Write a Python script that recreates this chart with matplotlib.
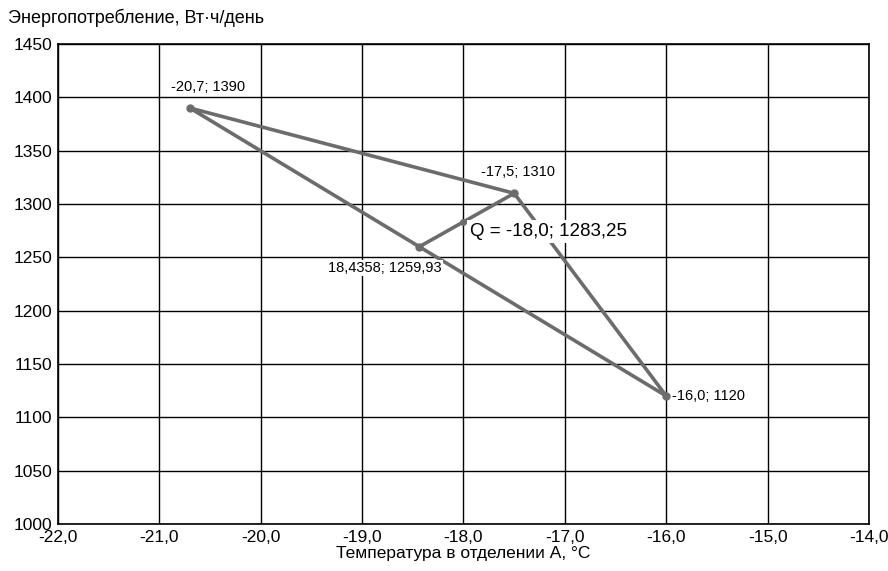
import matplotlib
matplotlib.use("Agg")
import matplotlib.pyplot as plt
from matplotlib.ticker import FuncFormatter

plt.rcParams["font.family"] = ["Liberation Sans", "DejaVu Sans"]

# вершины треугольника (температура, энергопотребление)
tri_t = [-20.7, -17.5, -16.0, -20.7]
tri_e = [1390, 1310, 1120, 1390]

# отрезок через точку Q
seg_t = [-18.4358, -17.5]
seg_e = [1259.93, 1310]

q_t, q_e = -18.0, 1283.25

labels = ["-20,7; 1390", "-17,5; 1310", "18,4358; 1259,93", "-16,0; 1120"]
label_pos = [(-20.52, 1410), (-17.46, 1330), (-18.78, 1240), (-15.94, 1120)]
label_ha = ["center", "center", "center", "left"]

line_col = "#6c6c6c"
box = dict(facecolor="white", edgecolor="none", pad=1.0)

fig = plt.figure(figsize=(8.88, 5.71), dpi=100)
ax = fig.add_axes([0.0653, 0.0823, 0.9133, 0.8407])

ax.plot(tri_t, tri_e, color=line_col, lw=2.6, zorder=3, solid_capstyle="round")
ax.plot(seg_t, seg_e, color=line_col, lw=2.6, zorder=3)
ax.plot(tri_t[:3] + seg_t[:1], tri_e[:3] + seg_e[:1], "o", color=line_col,
        ms=5, zorder=4, ls="none")
ax.plot([q_t], [q_e], "o", color=line_col, ms=4, zorder=4)

for txt, (x, y), ha in zip(labels, label_pos, label_ha):
    ax.text(x, y, txt, ha=ha, va="center", fontsize=10.5, zorder=5, bbox=box)
ax.text(-17.94, 1274, "Q = -18,0; 1283,25", ha="left", va="center",
        fontsize=13.5, zorder=5, bbox=dict(facecolor="white", edgecolor="none", pad=2.0))

ax.set_xlim(-22, -14)
ax.set_ylim(1000, 1450)
ax.set_xticks([-22 + i for i in range(9)])
ax.set_yticks(range(1000, 1451, 50))
ax.xaxis.set_major_formatter(FuncFormatter(lambda v, p: f"{v:.1f}".replace(".", ",")))
ax.grid(True, color="black", lw=1.0)
ax.set_axisbelow(True)
ax.tick_params(length=0, labelsize=12.5, pad=4)
for s in ax.spines.values():
    s.set_color("black")
    s.set_linewidth(1.2)

ax.set_xlabel("Температура в отделении А, °С", fontsize=12.5, labelpad=1)
fig.text(0.009, 0.968, "Энергопотребление, Вт·ч/день", fontsize=13, va="center")

fig.savefig("out.png", dpi=100)
